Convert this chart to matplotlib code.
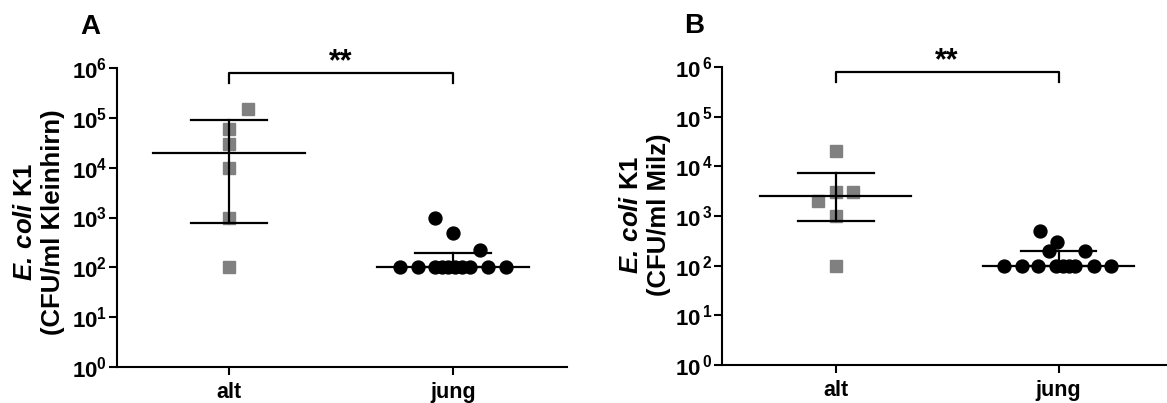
import numpy as np
import matplotlib
matplotlib.use("Agg")
import matplotlib.pyplot as plt

plt.rcParams['font.family'] = ['Liberation Sans', 'DejaVu Sans']
plt.rcParams['font.weight'] = 'bold'
plt.rcParams['mathtext.fontset'] = 'custom'
plt.rcParams['mathtext.rm'] = 'Liberation Sans:bold'
plt.rcParams['mathtext.bf'] = 'Liberation Sans:bold'
plt.rcParams['mathtext.it'] = 'Liberation Sans:italic:bold'
plt.rcParams['mathtext.bfit'] = 'Liberation Sans:italic:bold'

# ---------------- data ----------------
categories = ['alt', 'jung']
ytick_exponents = [0, 1, 2, 3, 4, 5, 6]

# Panel A (Kleinhirn)
a_alt = [1.5e5, 6e4, 3e4, 1e4, 1e3, 1e2]
a_jung = [1000, 500, 220, 100, 100, 100, 100, 100, 100, 100, 100, 100, 100]
a_median = [2.0e4, 100]
a_q1 = [780, 100]
a_q3 = [9.0e4, 190]

# Panel B (Milz)
b_alt = [2e4, 3e3, 3e3, 2e3, 1e3, 1e2]
b_jung = [500, 300, 200, 200, 100, 100, 100, 100, 100, 100, 100, 100, 100]
b_median = [2500, 100]
b_q1 = [790, 100]
b_q3 = [7300, 200]

significance = '**'

# horizontal scatter offsets (layout, in category units)
a_alt_dx = [0.085, 0, 0, 0, 0, 0]
a_jung_dx = [-0.08, 0.0, 0.12, -0.236, -0.156, -0.08, -0.05, -0.022, 0.01, 0.04, 0.075, 0.156, 0.236]
b_alt_dx = [0, 0, 0.076, -0.08, 0, 0]
b_jung_dx = [-0.085, -0.005, -0.045, 0.12, -0.246, -0.166, -0.09, -0.01, 0.022, 0.045, 0.076, 0.157, 0.237]

W, H = 1167, 403
fig = plt.figure(figsize=(W / 100, H / 100), dpi=100)


def px_axes(l, r, b, t):
    return fig.add_axes([l / W, (H - b) / H, (r - l) / W, (b - t) / H])


def panel(ax, alt, jung, alt_dx, jung_dx, med, q1, q3, xlim, ylab, letter, letter_xy, ylab_xy, tickfmt):
    x = np.arange(len(categories))
    ax.set_yscale('log')
    ax.set_ylim(10.0 ** ytick_exponents[0], 10.0 ** ytick_exponents[-1])
    ax.set_xlim(*xlim)
    # points
    ax.plot(x[0] + np.array(alt_dx), alt, linestyle='none', marker='s', ms=9,
            mfc='#808080', mec='#808080', zorder=3, clip_on=False)
    ax.plot(x[1] + np.array(jung_dx), jung, linestyle='none', marker='o', ms=9.3,
            mfc='black', mec='black', zorder=3, clip_on=False)
    # median + IQR
    for i in range(len(categories)):
        ax.plot([x[i] - 0.34, x[i] + 0.34], [med[i], med[i]], color='black', lw=1.6, zorder=4)
        ax.plot([x[i], x[i]], [q1[i], q3[i]], color='black', lw=1.6, zorder=4)
        for v in (q1[i], q3[i]):
            ax.plot([x[i] - 0.17, x[i] + 0.17], [v, v], color='black', lw=1.6, zorder=4)
    # significance bracket
    yb, yd = 10 ** 5.9, 10 ** 5.7
    ax.plot([x[0], x[0], x[1], x[1]], [yd, yb, yb, yd], color='black', lw=1.6, clip_on=False)
    ax.text((x[0] + x[1]) / 2, 10 ** 5.96, significance, ha='center', va='baseline',
            fontsize=22, fontweight='bold')
    # axes styling
    for s in ('top', 'right'):
        ax.spines[s].set_visible(False)
    for s in ('left', 'bottom'):
        ax.spines[s].set_linewidth(1.5)
    ax.set_xticks(x)
    ax.set_xticklabels(categories, fontsize=15.5, fontweight='bold')
    ax.set_yticks([10.0 ** e for e in ytick_exponents])
    ax.set_yticklabels([tickfmt % e for e in ytick_exponents], fontsize=16)
    ax.yaxis.set_minor_locator(matplotlib.ticker.NullLocator())
    ax.tick_params(axis='both', which='major', length=6, width=1.5, direction='out')
    ax.tick_params(axis='y', pad=1)
    ax.tick_params(axis='x', pad=5)
    fig.text(ylab_xy[0] / W, 1 - ylab_xy[1] / H, ylab, rotation=90, ha='center', va='center',
             fontsize=18.5, fontweight='bold', linespacing=1.2)
    fig.text(letter_xy[0] / W, 1 - letter_xy[1] / H, letter, ha='center', va='center',
             fontsize=20, fontweight='bold')


axA = px_axes(117, 567, 367, 68)
panel(axA, a_alt, a_jung, a_alt_dx, a_jung_dx, a_median, a_q1, a_q3, (-0.5, 1.51),
      '$\\mathbfit{E.\\,coli}$ K1\n(CFU/ml Kleinhirn)', 'A', (90, 27), (39, 222),
      r'$\mathbf{10^{%d}}$')

axB = px_axes(722, 1170, 365, 67)
panel(axB, b_alt, b_jung, b_alt_dx, b_jung_dx, b_median, b_q1, b_q3, (-0.51, 1.50),
      '$\\mathbfit{E.\\,coli}$ K1\n(CFU/ml Milz)', 'B', (694, 26), (645, 215),
      r'$\mathbf{10^{\,%d}}$')

fig.savefig('out.png', dpi=100)
